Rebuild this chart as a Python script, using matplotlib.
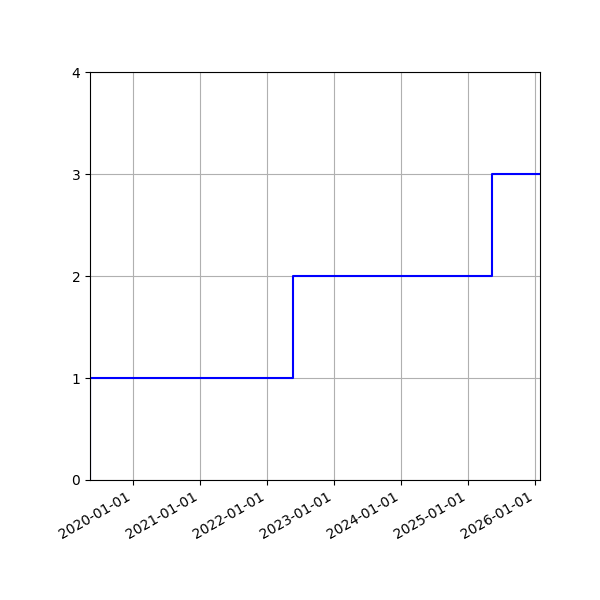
import numpy as np
import matplotlib
matplotlib.use("Agg")
import matplotlib.pyplot as plt
import matplotlib.dates as mdates
from datetime import datetime

# event dates and cumulative count
dates = [datetime(2019, 5, 10), datetime(2019, 5, 11), datetime(2022, 5, 22),
         datetime(2025, 5, 13), datetime(2026, 1, 28)]
counts = [0, 1, 2, 3, 3]

fig, ax = plt.subplots(figsize=(6, 6), dpi=100)
ax.step(dates, counts, where='post', color='blue')

ax.set_xlim(dates[0], dates[-1])
ax.set_ylim(0, 4)
ax.set_yticks([0, 1, 2, 3, 4])
ax.xaxis.set_major_locator(mdates.YearLocator())
ax.xaxis.set_major_formatter(mdates.DateFormatter('%Y-%m-%d'))
ax.grid(True)
fig.autofmt_xdate()
plt.subplots_adjust(left=0.15, right=0.9, top=0.88, bottom=0.2)

plt.savefig('out.png')
